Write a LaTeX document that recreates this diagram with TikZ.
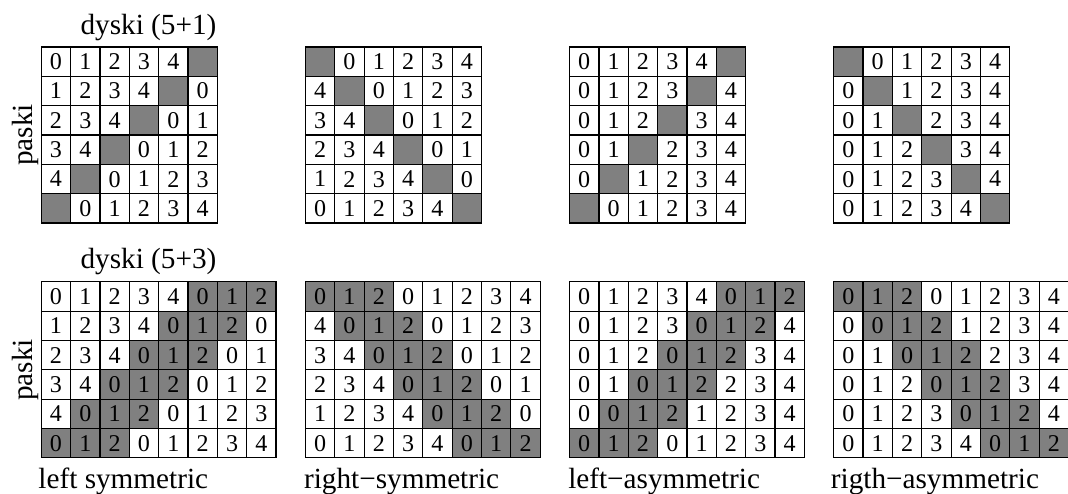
\documentclass[tikz,border=0pt]{standalone}
\usepackage{fontspec}
\setmainfont{Liberation Serif}
\usepackage{tikz}
\usetikzlibrary{positioning}
\definecolor{diskgray}{HTML}{808080}
% one cell: name, column, row, code (g = grey cell)
\def\cellsplit#1#2#3#4#5\relax{%
  \ifx g#4\node[cell,fill=diskgray] (#1) at ({#2-0.5},{0.5-#3}) {#5};%
  \else\node[cell] (#1) at ({#2-0.5},{0.5-#3}) {#4#5};\fi}
% one layout: name, top left corner, rows
\newcommand{\raidgrid}[3]{%
  \begin{scope}[shift={#2}]
    \foreach \row [count=\r] in {#3} {
      \foreach \v [count=\c] in \row {
        \edef\doit{\noexpand\cellsplit{#1-\r-\c}{\c}{\r}\v\noexpand\relax}\doit
      }
    }
  \end{scope}}

\begin{document}
\begin{tikzpicture}[x=0.6cm,y=0.6cm,
  cell/.style={draw,line width=0.7pt,minimum size=0.6cm,inner sep=0pt,text depth=0pt,font=\fontsize{14}{16}\selectfont},
  lbl/.style={inner sep=0pt,font=\fontsize{17}{19}\selectfont}]
  \useasboundingbox (0,0) rectangle (36.39,-16.8);
  % 5+1 disks
  \raidgrid{ls}{(1.407,-1.6)}{{0,1,2,3,4,g},{1,2,3,4,g,0},{2,3,4,g,0,1},{3,4,g,0,1,2},{4,g,0,1,2,3},{g,0,1,2,3,4}}
  \raidgrid{rs}{(10.407,-1.6)}{{g,0,1,2,3,4},{4,g,0,1,2,3},{3,4,g,0,1,2},{2,3,4,g,0,1},{1,2,3,4,g,0},{0,1,2,3,4,g}}
  \raidgrid{la}{(19.407,-1.6)}{{0,1,2,3,4,g},{0,1,2,3,g,4},{0,1,2,g,3,4},{0,1,g,2,3,4},{0,g,1,2,3,4},{g,0,1,2,3,4}}
  \raidgrid{ra}{(28.407,-1.6)}{{g,0,1,2,3,4},{0,g,1,2,3,4},{0,1,g,2,3,4},{0,1,2,g,3,4},{0,1,2,3,g,4},{0,1,2,3,4,g}}
  % 5+3 disks
  \raidgrid{lsb}{(1.407,-9.6)}{{0,1,2,3,4,g0,g1,g2},{1,2,3,4,g0,g1,g2,0},{2,3,4,g0,g1,g2,0,1},{3,4,g0,g1,g2,0,1,2},{4,g0,g1,g2,0,1,2,3},{g0,g1,g2,0,1,2,3,4}}
  \raidgrid{rsb}{(10.407,-9.6)}{{g0,g1,g2,0,1,2,3,4},{4,g0,g1,g2,0,1,2,3},{3,4,g0,g1,g2,0,1,2},{2,3,4,g0,g1,g2,0,1},{1,2,3,4,g0,g1,g2,0},{0,1,2,3,4,g0,g1,g2}}
  \raidgrid{lab}{(19.407,-9.6)}{{0,1,2,3,4,g0,g1,g2},{0,1,2,3,g0,g1,g2,4},{0,1,2,g0,g1,g2,3,4},{0,1,g0,g1,g2,2,3,4},{0,g0,g1,g2,1,2,3,4},{g0,g1,g2,0,1,2,3,4}}
  \raidgrid{rab}{(28.407,-9.6)}{{g0,g1,g2,0,1,2,3,4},{0,g0,g1,g2,1,2,3,4},{0,1,g0,g1,g2,2,3,4},{0,1,2,g0,g1,g2,3,4},{0,1,2,3,g0,g1,g2,4},{0,1,2,3,4,g0,g1,g2}}
  % labels
  \node[lbl,anchor=base] (dt) at (5.06,-1.16) {dyski (5+1)};
  \node[lbl,anchor=base] (db) at (5.06,-9.16) {dyski (5+3)};
  \node[lbl,anchor=base,rotate=90] (pt) at (1.12,-4.6) {paski};
  \node[lbl,anchor=base,rotate=90] (pb) at (1.12,-12.6) {paski};
  \node[lbl,anchor=base west] (n1) at (1.3,-16.63) {left symmetric};
  \node[lbl,anchor=base west] (n2) at (10.35,-16.63) {right−symmetric};
  \node[lbl,anchor=base west] (n3) at (19.35,-16.63) {left−asymmetric};
  \node[lbl,anchor=base west] (n4) at (28.3,-16.63) {rigth−asymmetric};
\end{tikzpicture}
\end{document}
